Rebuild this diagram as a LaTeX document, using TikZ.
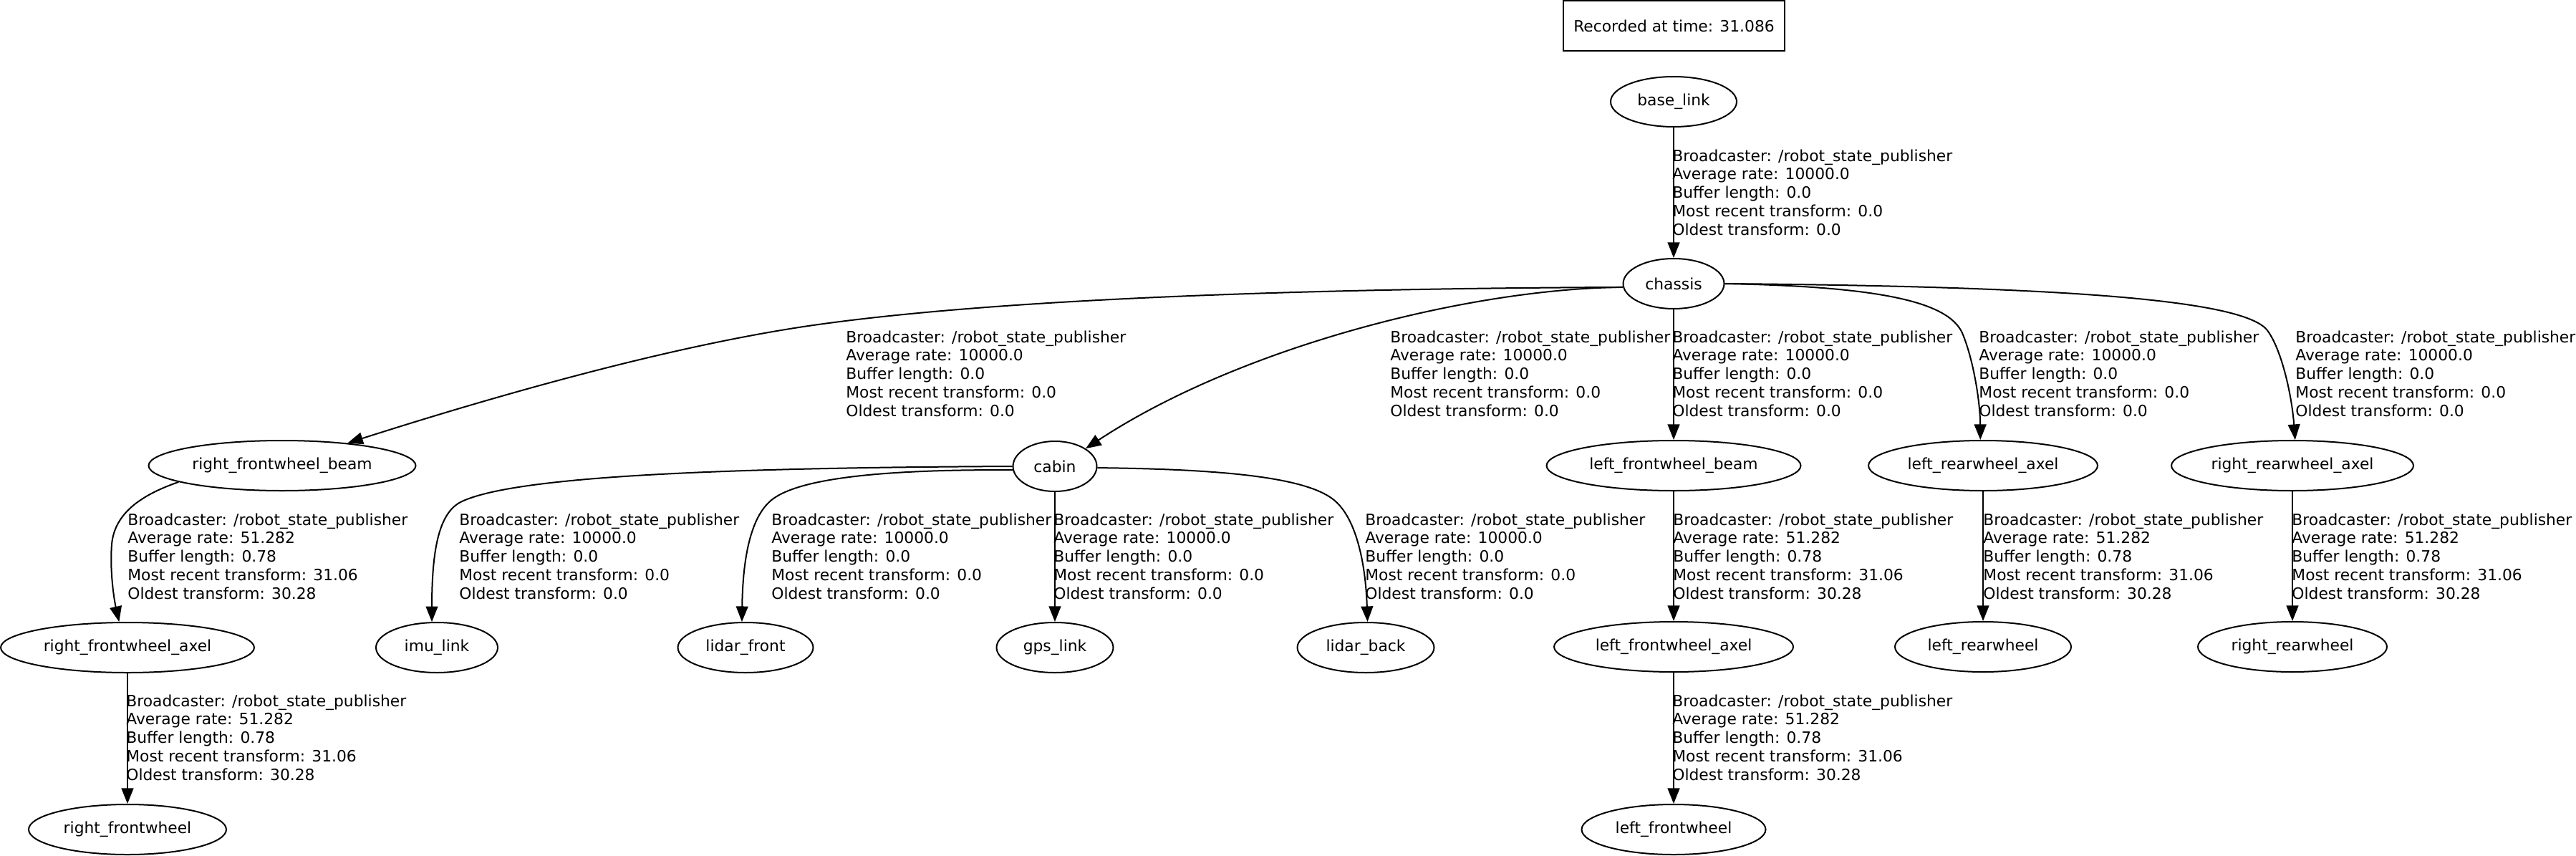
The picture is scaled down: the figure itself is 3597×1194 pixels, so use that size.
\documentclass[tikz,border=0pt]{standalone}
\usepackage{fontspec}
\setmainfont{DejaVu Sans}
\usetikzlibrary{shapes.geometric,arrows.meta}
\newcommand\tflbl[4]{\begin{tabular}[t]{@{}l@{}}Broadcaster: /robot\_state\_publisher\\Average rate: #1\\Buffer length: #2\\Most recent transform: #3\\Oldest transform: #4\end{tabular}}
\begin{document}
\begin{tikzpicture}[x=0.5pt,y=-0.5pt,
  every node/.style={font=\fontsize{10.9}{12.9}\selectfont},
  frame/.style={ellipse,draw,line width=1pt,inner sep=0pt,minimum height=35pt},
  tf/.style={-{Triangle[length=10.8pt,width=8.4pt]},line width=1pt},
  lbl/.style={anchor=base west,inner sep=0pt}]
\fill[white] (0,0) rectangle (3597,1194);
\useasboundingbox (0,0) rectangle (3597,1194);

\node[draw,line width=1pt,rectangle,inner sep=0pt,minimum width=154.5pt,minimum height=35pt] (rec) at (2337.5,36) {Recorded at time: 31.086};

\node[frame,minimum width=88pt] (base) at (2337,142) {base\_link};
\node[frame,minimum width=70.5pt] (chassis) at (2337,396) {chassis};
\node[frame,minimum width=186.5pt] (rfb) at (394,650) {right\_frontwheel\_beam};
\node[frame,minimum width=58.5pt] (cabin) at (1473,651) {cabin};
\node[frame,minimum width=177.5pt] (lfb) at (2337,650) {left\_frontwheel\_beam};
\node[frame,minimum width=160pt] (lra) at (2769,650) {left\_rearwheel\_axel};
\node[frame,minimum width=169pt] (rra) at (3201,650) {right\_rearwheel\_axel};
\node[frame,minimum width=177pt] (rfa) at (178,904) {right\_frontwheel\_axel};
\node[frame,minimum width=85pt] (imu) at (610,904) {imu\_link};
\node[frame,minimum width=94.5pt] (lfr) at (1041,904) {lidar\_front};
\node[frame,minimum width=81.5pt] (gps) at (1473,904) {gps\_link};
\node[frame,minimum width=95.5pt] (lb) at (1907,904) {lidar\_back};
\node[frame,minimum width=167pt] (lfa) at (2337,903) {left\_frontwheel\_axel};
\node[frame,minimum width=123pt] (lr) at (2769,903) {left\_rearwheel};
\node[frame,minimum width=132pt] (rr) at (3201,903) {right\_rearwheel};
\node[frame,minimum width=138pt] (rf) at (178,1158) {right\_frontwheel};
\node[frame,minimum width=128.5pt] (lf) at (2337,1158) {left\_frontwheel};

% edges
\draw[tf] (base) -- (chassis);
\draw[tf] (chassis.184) .. controls (1800,403) and (1400,418) .. (1150,452)
  .. controls (950,479) and (700,550) .. (rfb.19);
\draw[tf] (chassis.184) .. controls (2050,403) and (1730,485) .. (cabin.30);
\draw[tf] (chassis) -- (lfb);
\draw[tf] (chassis.east) .. controls (2620,400) and (2720,420) .. (2740,465)
  .. controls (2755,500) and (2765,560) .. (lra.96);
\draw[tf] (chassis.east) .. controls (2900,400) and (3130,420) .. (3165,460)
  .. controls (3185,485) and (3200,550) .. (rra.84);
\draw[tf] (rfb.189) .. controls (200,690) and (160,715) .. (156,760)
  .. controls (153,800) and (160,840) .. (rfa.108);
\draw[tf] (cabin.west) .. controls (1000,653) and (720,665) .. (645,700)
  .. controls (615,714) and (603,760) .. (imu.101);
\draw[tf] (cabin.185) .. controls (1230,655) and (1110,668) .. (1075,700)
  .. controls (1045,727) and (1037,790) .. (lfr.98);
\draw[tf] (cabin) -- (gps);
\draw[tf] (cabin.358) .. controls (1720,655) and (1830,668) .. (1865,700)
  .. controls (1895,727) and (1907,790) .. (lb.86);
\draw[tf] (lfb) -- (lfa);
\draw[tf] (lra) -- (lr);
\draw[tf] (rra) -- (rr);
\draw[tf] (rfa) -- (rf);
\draw[tf] (lfa) -- (lf);

% labels
\node[lbl] (l0) at (2335,225) {\tflbl{10000.0}{0.0}{0.0}{0.0}};
\node[lbl] (l1) at (1181,478) {\tflbl{10000.0}{0.0}{0.0}{0.0}};
\node[lbl] (l2) at (1941,478) {\tflbl{10000.0}{0.0}{0.0}{0.0}};
\node[lbl] (l3) at (2335,478) {\tflbl{10000.0}{0.0}{0.0}{0.0}};
\node[lbl] (l4) at (2763,478) {\tflbl{10000.0}{0.0}{0.0}{0.0}};
\node[lbl] (l5) at (3205,478) {\tflbl{10000.0}{0.0}{0.0}{0.0}};
\node[lbl] (l6) at (178,733) {\tflbl{51.282}{0.78}{31.06}{30.28}};
\node[lbl] (l7) at (641,733) {\tflbl{10000.0}{0.0}{0.0}{0.0}};
\node[lbl] (l8) at (1077,733) {\tflbl{10000.0}{0.0}{0.0}{0.0}};
\node[lbl] (l9) at (1471,733) {\tflbl{10000.0}{0.0}{0.0}{0.0}};
\node[lbl] (l10) at (1906,733) {\tflbl{10000.0}{0.0}{0.0}{0.0}};
\node[lbl] (l11) at (2336,733) {\tflbl{51.282}{0.78}{31.06}{30.28}};
\node[lbl] (l12) at (2769,733) {\tflbl{51.282}{0.78}{31.06}{30.28}};
\node[lbl] (l13) at (3200,733) {\tflbl{51.282}{0.78}{31.06}{30.28}};
\node[lbl] (l14) at (176,986) {\tflbl{51.282}{0.78}{31.06}{30.28}};
\node[lbl] (l15) at (2335,986) {\tflbl{51.282}{0.78}{31.06}{30.28}};
\end{tikzpicture}
\end{document}
